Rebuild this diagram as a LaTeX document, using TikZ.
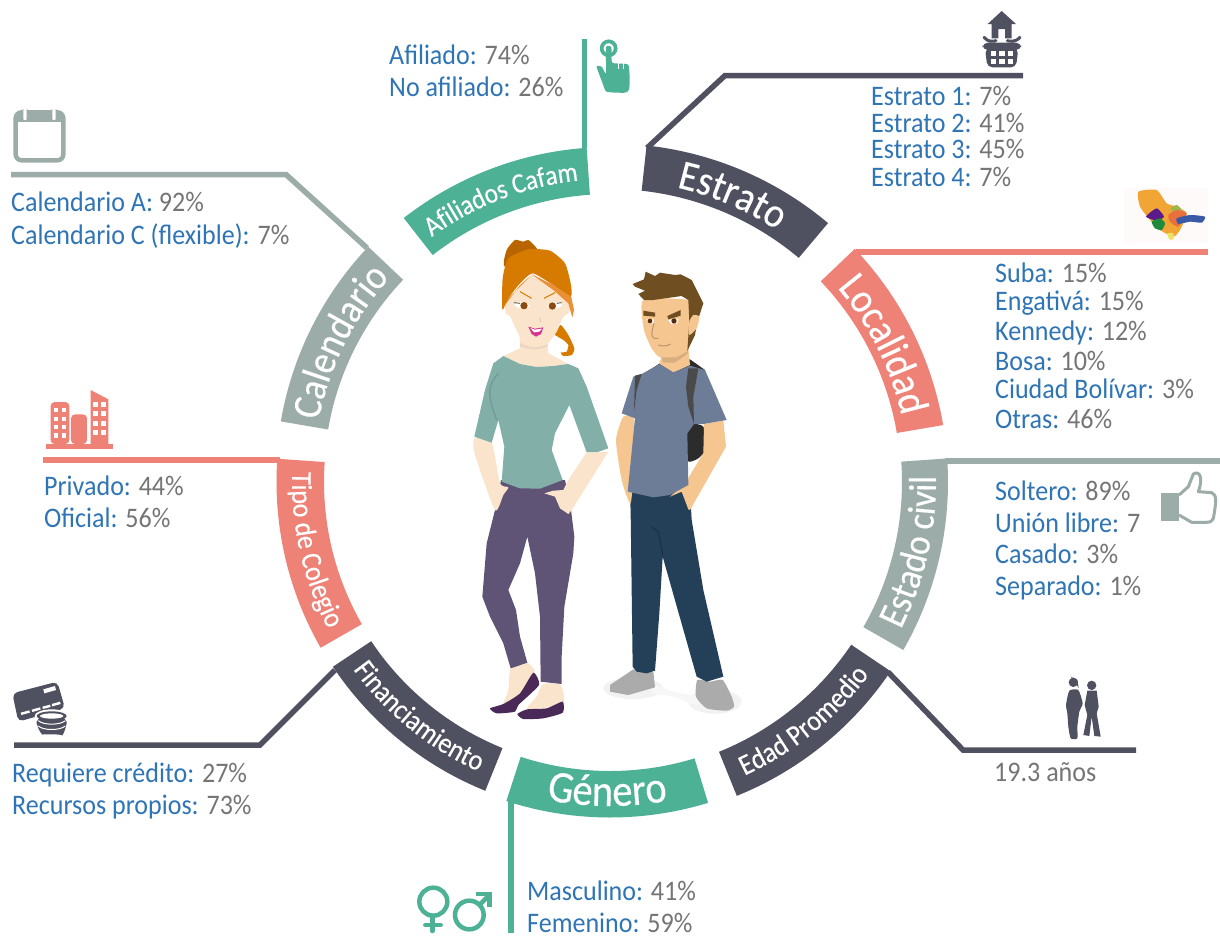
\documentclass[tikz,border=0pt]{standalone}
\usepackage{fontspec}
\setmainfont[FakeStretch=0.92]{Carlito}
\newfontfamily\bandfont[FakeStretch=0.9,FakeBold=0.35]{Carlito}
\usetikzlibrary{decorations.text}
\definecolor{cteal}{HTML}{4DB196}
\definecolor{cslate}{HTML}{4F5060}
\definecolor{csalmon}{HTML}{EE8277}
\definecolor{cgrey}{HTML}{9CACA8}
\definecolor{keyblue}{HTML}{2F75B5}
\definecolor{valgrey}{HTML}{757575}
\definecolor{wskin}{HTML}{FBE4CC}
\definecolor{mskin}{HTML}{F6C690}
\definecolor{hairmain}{HTML}{D67A00}
\definecolor{hairdark}{HTML}{B86500}
\definecolor{hairlight}{HTML}{EA8F35}
\definecolor{wshirt}{HTML}{82AFA8}
\definecolor{wpants}{HTML}{5F5476}
\definecolor{wshoe}{HTML}{4A2858}
\definecolor{mhair}{HTML}{6F4E22}
\definecolor{mshirt}{HTML}{6E7D97}
\definecolor{mjeans}{HTML}{234058}
\definecolor{mshoe}{HTML}{ABABAB}
\definecolor{bag}{HTML}{2C2C2C}
\definecolor{strap}{HTML}{4A4A4A}
\definecolor{iris}{HTML}{8A4A10}
\definecolor{mapor}{HTML}{F0A535}
\definecolor{mappu}{HTML}{5A1A8A}
\definecolor{mapgr}{HTML}{1F8A3C}
\definecolor{mapbl}{HTML}{3A5AA8}
\definecolor{mapre}{HTML}{E8703C}
\definecolor{mapli}{HTML}{9DB84A}
\definecolor{mapye}{HTML}{EFE060}
\tikzset{
 kvtext/.style={inner sep=0pt,anchor=base west,font=\fontsize{28.3}{30}\selectfont},
 leader/.style={line width=5.5pt,line join=miter},
}
\newcommand{\kvn}[5]{\node[kvtext] (#1) at (#2,#3) {\textcolor{keyblue}{#4:} \textcolor{valgrey}{#5}};}
\newcommand{\blob}[2]{\fill[#1] plot[smooth cycle,tension=.35] coordinates {#2};}
\newcommand{\poly}[2]{\fill[#1] plot[sharp cycle] coordinates {#2};}
\def\cx{610}\def\cy{482}\def\Ro{337}\def\Ri{290}
\newcommand{\bandshape}[3]{%
 \fill[#1] plot[domain=#2:#3,samples=40] ({\cx+\Ro*cos(\x)},{\cy+\Ro*sin(\x)})
   -- plot[domain=#3:#2,samples=40] ({\cx+\Ri*cos(\x)},{\cy+\Ri*sin(\x)}) -- cycle;}
\newcommand{\band}[6]{%
 \bandshape{#1}{#2}{#3}
 \path[decorate,decoration={text along path,text align=center,
   text={|\color{white}\bandfont\fontsize{#5}{#5}\selectfont|#6}}]
   plot[domain=#2:#3,samples=40] ({\cx+#4*cos(\x)},{\cy+#4*sin(\x)});
}
\newcommand{\bandr}[6]{%
 \bandshape{#1}{#2}{#3}
 \path[decorate,decoration={text along path,text align=center,
   text={|\color{white}\bandfont\fontsize{#5}{#5}\selectfont|#6}}]
   plot[domain=#3:#2,samples=40] ({\cx+#4*cos(\x)},{\cy+#4*sin(\x)});
}
\begin{document}
\begin{tikzpicture}[x=1pt,y=-1pt]
\useasboundingbox (0,0) rectangle (1220,937);
\fill[white] (0,0) rectangle (1220,937);

% leaders
\coordinate (afA) at (584.5,148); \coordinate (afB) at (584.5,39);
\draw[leader,cteal] (afA) -- (afB);
\coordinate (esA) at (647,148); \coordinate (esB) at (725,75.5); \coordinate (esC) at (1023,75.5);
\draw[leader,cslate] (esA) -- (esB) -- (esC);
\coordinate (loA) at (856,252); \coordinate (loB) at (1208,252);
\draw[leader,csalmon] (loA) -- (loB);
\coordinate (ecA) at (945,461); \coordinate (ecB) at (1220,461);
\draw[leader,cgrey] (ecA) -- (ecB);
\coordinate (edA) at (888,672); \coordinate (edB) at (963,750); \coordinate (edC) at (1136,750);
\draw[leader,cslate] (edA) -- (edB) -- (edC);
\coordinate (geA) at (511,800); \coordinate (geB) at (511,933);
\draw[leader,cteal] (geA) -- (geB);
\coordinate (fiA) at (335,670); \coordinate (fiB) at (260,745); \coordinate (fiC) at (14,745);
\draw[leader,cslate] (fiA) -- (fiB) -- (fiC);
\coordinate (tiA) at (280,460); \coordinate (tiB) at (43,460);
\draw[leader,csalmon] (tiA) -- (tiB);
\coordinate (caA) at (367,248); \coordinate (caB) at (286,174.5); \coordinate (caC) at (11,174.5);
\draw[leader,cgrey] (caA) -- (caB) -- (caC);

% bands
\def\Ro{335}\def\Ri{288}
\band{cteal}{232}{266}{303}{28}{Afiliados Cafam}
\def\Ro{338.5}\def\Ri{293}
\band{cslate}{276.2}{310.1}{302}{42}{Estrato}
\def\Ro{338}\def\Ri{291}
\band{csalmon}{316.4}{350.3}{299}{42}{Localidad}
\def\Ro{338}\def\Ri{292}
\bandr{cgrey}{356}{389.8}{326}{39}{Estado civil}
\def\Ro{338.5}\def\Ri{291}
\bandr{cslate}{34}{68}{323}{29}{Edad Promedio}
\def\Ro{335.5}\def\Ri{289}
\bandr{cteal}{73}{108}{324}{45}{Género}
\def\Ro{333}\def\Ri{287}
\bandr{cslate}{112}{146.3}{318}{29}{Financiamiento}
\def\Ro{333.5}\def\Ri{286}
\bandr{csalmon}{150.2}{184}{318}{29}{Tipo de Colegio}
\def\cx{612}\def\cy{478}\def\Ro{336}\def\Ri{288}
\band{cgrey}{189.7}{223.5}{299}{41}{Calendario}
\def\cx{610}\def\cy{482}

% texts
\kvn{t1}{389}{64}{Afiliado}{74\%}
\kvn{t2}{389}{96}{No afiliado}{26\%}
\kvn{t3}{871}{105}{Estrato 1}{7\%}
\kvn{t4}{871}{132}{Estrato 2}{41\%}
\kvn{t5}{871}{158}{Estrato 3}{45\%}
\kvn{t6}{871}{186}{Estrato 4}{7\%}
\kvn{t7}{995}{282}{Suba}{15\%}
\kvn{t8}{995}{310}{Engativá}{15\%}
\kvn{t9}{995}{340}{Kennedy}{12\%}
\kvn{t10}{995}{370}{Bosa}{10\%}
\kvn{t11}{995}{398}{Ciudad Bolívar}{3\%}
\kvn{t12}{995}{428}{Otras}{46\%}
\kvn{t13}{995}{500}{Soltero}{89\%}
\kvn{t14}{995}{532}{Unión libre}{7}
\kvn{t15}{995}{563}{Casado}{3\%}
\kvn{t16}{995}{595}{Separado}{1\%}
\node[kvtext,text=valgrey] (t17) at (994,781) {19.3 años};
\kvn{t18}{527}{900}{Masculino}{41\%}
\kvn{t19}{527}{932}{Femenino}{59\%}
\kvn{t20}{12}{782}{Requiere crédito}{27\%}
\kvn{t21}{12}{814}{Recursos propios}{73\%}
\kvn{t22}{44}{495}{Privado}{44\%}
\kvn{t23}{44}{527}{Oficial}{56\%}
\kvn{t24}{11}{211}{Calendario A}{92\%}
\kvn{t25}{11}{244}{Calendario C (flexible)}{7\%}

% characters, in 3x crop coordinates
\begin{scope}[shift={(440,220)},x=0.33333pt,y=-0.33333pt]
% floor shadows
\fill[black!5] (580,1405) ellipse [x radius=90,y radius=32];
\fill[black!5] (825,1445) ellipse [x radius=80,y radius=36];
\blob{black!3}{(640,1395) (700,1415) (770,1430) (770,1455) (700,1430) (640,1420)}
% WOMAN
\blob{wskin}{(212,1345) (262,1328) (285,1360) (240,1430) (190,1455) (205,1410)}
\blob{wskin}{(310,1392) (362,1395) (368,1450) (260,1470) (290,1430)}
\blob{wshoe}{(280,1358) (297,1395) (235,1455) (225,1475) (170,1480) (150,1465) (190,1452) (240,1420)}
\blob{wshoe}{(368,1445) (368,1478) (310,1495) (250,1497) (232,1482) (262,1468) (320,1465)}
\poly{wpants}{(183,780) (375,780) (393,870) (403,950) (400,1000) (373,1160) (365,1310) (365,1392) (302,1385) (300,1190) (285,1060) (262,950) (240,1030) (205,1110) (228,1170) (240,1250) (262,1328) (212,1345) (190,1270) (150,1190) (127,1130) (140,970) (165,870)}
% hair behind
\blob{hairdark}{(195,140) (200,90) (225,60) (250,65) (265,60) (290,85) (300,130)}
\blob{hairmain}{(345,340) (362,315) (385,345) (403,385) (395,405) (370,408) (362,398) (380,395) (385,375) (370,360) (345,345)}
% neck, chest
\poly{wskin}{(238,330) (240,385) (190,408) (240,432) (290,441) (340,438) (385,432) (325,400) (322,350)}
\blob{wskin}{(195,245) (197,280) (210,288) (222,315) (240,350) (270,378) (300,382) (320,375) (350,335) (370,290) (385,280) (390,260) (380,235) (280,165) (200,240)}
\fill[black!6!wskin] (240,368) .. controls (265,385) and (305,385) .. (322,372) -- (322,378) .. controls (300,392) and (265,390) .. (240,378) -- cycle;
% hair front
\poly{hairlight}{(275,163) (340,195) (393,228) (402,270) (397,292) (385,250) (340,210)}
\poly{hairlight}{(275,165) (240,195) (195,255) (187,272) (200,240)}
\blob{hairmain}{(187,268) (188,175) (205,115) (265,88) (330,92) (375,130) (392,190) (393,228) (340,195) (278,160) (240,190) (205,235)}
% face
\draw[hairmain,line width=1pt] (240,215) -- (275,235);
\draw[hairmain,line width=1pt] (312,235) -- (345,218);
\fill[white] (222,255) .. controls (240,240) and (262,245) .. (270,258) .. controls (255,270) and (235,268) .. (222,255) -- cycle;
\fill[white] (320,258) .. controls (335,245) and (355,242) .. (368,255) .. controls (355,270) and (330,270) .. (320,258) -- cycle;
\fill[iris] (252,257) circle (11);
\fill[iris] (337,258) circle (11);
\draw[black!80,line width=.7pt] (222,248) -- (240,250) (365,248) -- (350,250);
\draw[black!12!wskin,line width=1pt] (298,293) -- (302,305);
\poly{magenta!85!black!90!white}{(265,320) (285,326) (310,322) (303,342) (288,350) (275,342)}
\poly{white}{(271,324) (285,329) (306,326) (298,335) (282,337)}
% arms (woman)
\blob{wskin}{(103,655) (105,705) (165,870) (190,825) (205,802) (180,790) (155,668)}
% shirt
\poly{wshirt}{(190,408) (240,432) (290,441) (340,438) (385,432) (415,445) (440,500) (505,685) (470,697) (440,697) (388,555) (345,640) (335,690) (368,780) (300,806) (240,805) (185,785) (193,680) (175,600) (155,668) (103,650) (135,510) (160,430)}
\draw[black!12!wshirt,line width=1.3pt] (175,460) .. controls (150,490) and (135,510) .. (170,600);
\poly{wskin}{(313,820) (345,830) (360,865) (385,882) (395,870) (505,695) (470,697) (440,697) (385,780) (370,810) (340,812)}
% MAN
\poly{bag}{(610,462) (660,430) (750,418) (795,450) (790,500) (640,500)}
\blob{bag}{(755,610) (790,620) (803,680) (775,715) (742,722) (742,620)}
\poly{mshoe}{(580,1348) (510,1395) (510,1415) (565,1425) (645,1402) (640,1355)}
\blob{mshoe}{(772,1380) (768,1430) (800,1465) (860,1472) (882,1460) (875,1430) (848,1380) (810,1385)}
\poly{mjeans}{(570,810) (750,810) (755,900) (790,1110) (850,1370) (800,1385) (770,1370) (668,1010) (658,1180) (645,1352) (620,1360) (590,1355) (578,1340) (572,880)}
\draw[black!25!mjeans,line width=1pt] (635,920) -- (655,935) -- (668,1005);
\blob{mskin}{(550,590) (528,660) (545,780) (572,850) (585,700) (582,597)}
\poly{mskin}{(792,612) (850,602) (858,680) (750,870) (745,868) (725,815) (690,830) (735,790) (790,700)}
\poly{mskin}{(660,420) (660,435) (700,458) (750,435) (745,385)}
\poly{mshirt}{(605,462) (660,432) (700,457) (750,437) (795,450) (860,600) (790,612) (762,612) (742,640) (745,795) (690,825) (640,832) (563,815) (585,595) (545,580) (580,470)}
\poly{strap}{(585,467) (605,462) (590,510) (582,575)}
\poly{strap}{(745,445) (775,445) (760,530) (762,612) (745,560) (738,500)}
% head
\blob{mskin}{(610,240) (612,330) (635,385) (660,412) (710,410) (745,385) (775,285) (745,240)}
\fill[black!12!mskin] (662,412) -- (710,412) -- (745,392) -- (742,402) -- (705,428) -- (670,428) -- cycle;
\poly{mhair}{(578,192) (612,178) (617,155) (645,168) (660,158) (705,165) (722,163) (755,180) (790,250) (772,305) (765,345) (742,393) (748,305) (745,240) (725,228) (640,240) (612,240) (595,222) (615,212) (585,200)}
\blob{mskin}{(748,305) (760,285) (778,290) (770,325) (748,345)}
\poly{mhair}{(610,272) (645,278) (645,290) (610,287)}
\poly{mhair}{(682,288) (722,270) (722,287) (685,298)}
\fill[white] (620,298) -- (642,298) -- (640,310) -- (628,310) -- cycle;
\fill[white] (684,300) -- (716,296) -- (712,310) -- (695,313) -- cycle;
\fill[black!40!iris] (630,303) circle (7);
\fill[black!40!iris] (702,303) circle (8);
\draw[black!25!mskin,line width=1pt] (642,310) .. controls (630,350) and (635,358) .. (655,355);
\draw[black!25!mskin,line width=1pt] (655,375) .. controls (670,380) and (680,378) .. (692,372);
\end{scope}

% hand icon
\begin{scope}[shift={(380,20)},x=0.33333pt,y=-0.33333pt]
\draw[cteal,line width=3.7pt] (686,85) circle (21);
\blob{cteal}{(678,82) (694,82) (697,128) (745,135) (748,205) (735,218) (680,215) (668,190) (650,140) (665,140) (678,160)}
\draw[white,line width=.8pt] (714,122) -- (714,148) (731,125) -- (731,148);
\end{scope}

% house + basket icon
\begin{scope}[shift={(960,0)},x=0.33333pt,y=-0.33333pt]
\poly{cslate}{(125,33) (168,72) (155,72) (155,115) (135,115) (135,87) (115,87) (115,115) (95,115) (95,72) (83,72)}
\draw[cslate,line width=3pt,line cap=round] (72,112) .. controls (85,128) and (100,124) .. (108,122);
\draw[cslate,line width=3pt,line cap=round] (180,112) .. controls (165,128) and (150,124) .. (142,122);
\fill[cslate,rounded corners=5] (68,128) rectangle (183,150);
\fill[cslate,rounded corners=5] (75,145) -- (175,145) -- (168,202) -- (82,202) -- cycle;
\foreach \i in {92,118,144}{\foreach \j in {152,177}{\fill[white] (\i,\j) rectangle ++(16,16);}}
\end{scope}

% map picture
\begin{scope}[shift={(960,0)},x=0.33333pt,y=-0.33333pt]
\fill[red!2] (492,565) rectangle (743,730);
\blob{mapor}{(535,575) (590,570) (620,610) (650,620) (680,640) (660,690) (640,710) (600,690) (570,660) (540,620)}
\blob{mapli}{(632,625) (650,615) (665,630) (645,640)}
\blob{mapre}{(625,645) (650,630) (680,640) (655,680) (630,665)}
\blob{mappu}{(558,650) (590,625) (612,650) (590,662)}
\blob{mapgr}{(575,665) (600,655) (615,670) (605,690) (585,685)}
\blob{mapbl}{(650,655) (690,645) (735,650) (725,668) (690,665) (655,672)}
\blob{mapye}{(622,700) (640,700) (640,718) (628,718)}
\end{scope}

% thumb icon, age icon
\begin{scope}[shift={(1000,450)},x=0.33333pt,y=-0.33333pt]
\fill[cgrey] (483,130) rectangle (537,212);
\draw[cgrey,line width=3pt,line join=round] (537,135) -- (565,110) -- (580,72) .. controls (600,60) and (610,85) .. (595,125) -- (635,128) .. controls (650,135) and (650,150) .. (640,205) .. controls (635,217) and (625,217) .. (620,217) -- (575,217) -- (537,195);
\fill[cslate] (220,697) circle (14);
\poly{cslate}{(212,680) (232,690) (236,715) (225,695)}
\blob{cslate}{(208,722) (235,720) (248,760) (238,785) (232,830) (232,865) (212,865) (205,830) (202,790) (198,765)}
\fill[cslate] (275,706) circle (14);
\poly{cslate}{(262,722) (290,722) (296,770) (290,790) (302,860) (283,858) (275,800) (268,858) (250,855) (262,795) (254,765)}
\end{scope}

% building icon, card icon
\begin{scope}[shift={(0,380)},x=0.33333pt,y=-0.33333pt]
\fill[csalmon,rounded corners=4] (152,192) -- (152,66) -- (208,66) -- (208,192) -- cycle;
\fill[csalmon,rounded corners=4] (213,192) -- (213,103) -- (261,103) -- (261,192) -- cycle;
\fill[csalmon] (272,192) -- (272,30) -- (325,58) -- (325,192) -- cycle;
\fill[csalmon] (137,192) rectangle (338,206);
\foreach \i in {162,185}{\foreach \j in {84,110,135,160}{\fill[white] (\i,\j) rectangle ++(13,13);}}
\foreach \i in {280,303}{\foreach \j in {66,94,123,151}{\fill[white] (\i,\j) rectangle ++(15,15);}}
\fill[cslate,rounded corners=5] (37,940) -- (172,905) -- (195,985) -- (55,1025) -- cycle;
\fill[white] (130,928) -- (165,918) -- (168,930) -- (133,940) -- cycle;
\fill[white] (62,998) -- (88,991) -- (90,998) -- (64,1005) -- cycle;
\fill[white] (95,989) -- (120,982) -- (122,989) -- (97,996) -- cycle;
\fill[white] (127,980) -- (150,974) -- (152,981) -- (129,987) -- cycle;
\fill[white] (155,972) -- (180,965) -- (182,972) -- (157,979) -- cycle;
\fill[white] (105,1000) ellipse [x radius=0,y radius=0];
\fill[white] (155,1008) ellipse [x radius=51,y radius=20];
\fill[white] (104,1008) rectangle (206,1050);
\fill[cslate,rounded corners=8] (110,1008) -- (200,1008) -- (200,1047) .. controls (190,1062) and (125,1062) .. (110,1047) -- cycle;
\fill[cslate] (155,1008) ellipse [x radius=45,y radius=14];
\fill[white] (155,1008) ellipse [x radius=35,y radius=8];
\draw[white,line width=1pt] (115,1022) .. controls (130,1036) and (180,1036) .. (196,1022);
\draw[white,line width=1pt] (115,1038) .. controls (130,1052) and (180,1052) .. (196,1038);
\end{scope}

% calendar icon
\begin{scope}[shift={(0,90)},x=0.33333pt,y=-0.33333pt]
\draw[cgrey,line width=4.5pt,rounded corners=6] (47,67) rectangle (190,211);
\fill[cgrey] (47,67) rectangle (190,95);
\draw[white,line width=3.6pt,line cap=round] (75,58) -- (75,86) (162,58) -- (162,86);
\draw[cgrey,line width=.8pt,line cap=round] (69,58) -- (69,90) .. controls (71,94) and (79,94) .. (81,90) -- (81,58);
\draw[cgrey,line width=.8pt,line cap=round] (156,58) -- (156,90) .. controls (158,94) and (166,94) .. (168,90) -- (168,58);
\end{scope}

% gender icons
\begin{scope}[shift={(400,750)},x=0.33333pt,y=-0.33333pt]
\draw[cteal,line width=4.5pt] (100,455) circle (42);
\draw[cteal,line width=4.5pt,line cap=round] (97,497) -- (97,543) (76,525) -- (122,525);
\draw[cteal,line width=4.5pt] (208,495) circle (43);
\draw[cteal,line width=4.5pt] (238,465) -- (272,431);
\draw[cteal,line width=4.5pt] (228,432) -- (268,432) -- (268,472);
\end{scope}
\end{tikzpicture}
\end{document}
